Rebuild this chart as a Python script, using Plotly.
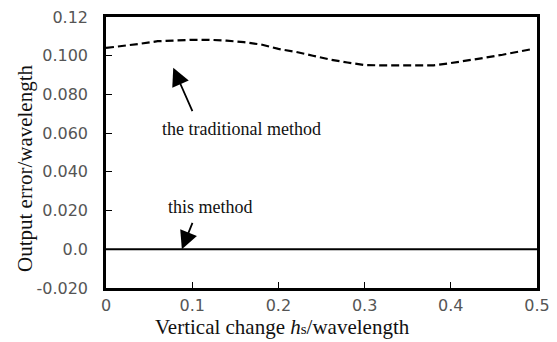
import plotly.graph_objects as go

x_trad = [0.0, 0.02, 0.04, 0.06, 0.08, 0.10, 0.12, 0.14, 0.16, 0.18, 0.20, 0.22, 0.24,
          0.26, 0.28, 0.30, 0.32, 0.34, 0.36, 0.38, 0.40, 0.42, 0.44, 0.46, 0.48, 0.495]
y_trad = [0.104, 0.105, 0.1062, 0.1075, 0.108, 0.1082, 0.1082, 0.1078, 0.107, 0.1058,
          0.1035, 0.102, 0.100, 0.098, 0.0965, 0.0952, 0.095, 0.095, 0.095, 0.095,
          0.0962, 0.0975, 0.099, 0.1005, 0.1022, 0.1035]
x_this = [0.0, 0.1, 0.2, 0.3, 0.4, 0.5]
y_this = [0.0, 0.0, 0.0, 0.0, 0.0, 0.0]

x_ticks = [0, 0.1, 0.2, 0.3, 0.4, 0.5]
x_labels = ["0", "0.1", "0.2", "0.3", "0.4", "0.5"]
y_ticks = [-0.02, 0.0, 0.02, 0.04, 0.06, 0.08, 0.10, 0.12]
y_labels = ["-0.020", "0.0", "0.020", "0.040", "0.060", "0.080", "0.100", "0.12"]

fig = go.Figure()
fig.add_trace(go.Scatter(x=x_trad, y=y_trad, mode="lines",
                         line=dict(color="black", width=2.2, dash="8px,4px"),
                         showlegend=False))
fig.add_trace(go.Scatter(x=x_this, y=y_this, mode="lines",
                         line=dict(color="black", width=2), showlegend=False))

serif = "Liberation Serif, Times New Roman, serif"
fig.add_annotation(x=0.078, y=0.0938, ax=0.101, ay=0.0706, xref="x", yref="y",
                   axref="x", ayref="y", text="", showarrow=True, arrowhead=2,
                   arrowsize=2.0, arrowwidth=1.8, arrowcolor="black")
fig.add_annotation(x=0.157, y=0.0619, text="the traditional method", showarrow=False,
                   font=dict(family=serif, size=18, color="#111"))
fig.add_annotation(x=0.088, y=0.0, ax=0.101, ay=0.0144, xref="x", yref="y",
                   axref="x", ayref="y", text="", showarrow=True, arrowhead=2,
                   arrowsize=2.0, arrowwidth=1.8, arrowcolor="black")
fig.add_annotation(x=0.121, y=0.0216, text="this method", showarrow=False,
                   font=dict(family=serif, size=18, color="#111"))

# page has an 8px body margin; lay out in window pixels then shift
OFF = 8
W, H = 557 - OFF, 342 - OFF
L, T = 106 - OFF, 17 - OFF
R, B = W - (537 - OFF), H - (288 - OFF)
pw, ph = W - L - R, H - T - B


def px_to_paper(sx, sy):
    fx, fy = sx - OFF, sy - OFF
    return (fx - L) / pw, (H - B - fy) / ph


tx, ty = px_to_paper(282, 327)
fig.add_annotation(x=tx, y=ty, xref="paper", yref="paper", showarrow=False,
                   xanchor="center", yanchor="middle",
                   text="Vertical change <i>h</i><span style='font-size:15px'>s</span>/wavelength",
                   font=dict(family=serif, size=21, color="#111"))
tx, ty = px_to_paper(25, 168)
fig.add_annotation(x=tx, y=ty, xref="paper", yref="paper", showarrow=False,
                   xanchor="center", yanchor="middle",
                   textangle=-90, text="Output error/wavelength",
                   font=dict(family=serif, size=21, color="#111"))

fig.update_layout(
    width=W, height=H,
    margin=dict(l=L, r=R, t=T, b=B),
    plot_bgcolor="white", paper_bgcolor="white",
    xaxis=dict(range=[0, 0.5], tickvals=x_ticks, ticktext=x_labels, automargin=False,
               showgrid=False, zeroline=False, showline=True, linecolor="black",
               linewidth=2.5, mirror=True, ticks="inside", ticklen=6, tickwidth=1,
               tickcolor="black", ticklabelstandoff=1, ticklabeloverflow="allow",
               tickfont=dict(family="DejaVu Sans", size=16, color="#555")),
    yaxis=dict(range=[-0.02, 0.12], tickvals=y_ticks, ticktext=y_labels, automargin=False,
               showgrid=False, zeroline=False, showline=True, linecolor="black",
               linewidth=2.5, mirror=True, ticks="inside", ticklen=6, tickwidth=1,
               tickcolor="black", ticklabelstandoff=12, ticklabeloverflow="allow",
               tickfont=dict(family="DejaVu Sans", size=16, color="#555")),
)
fig.write_html("out.html")
